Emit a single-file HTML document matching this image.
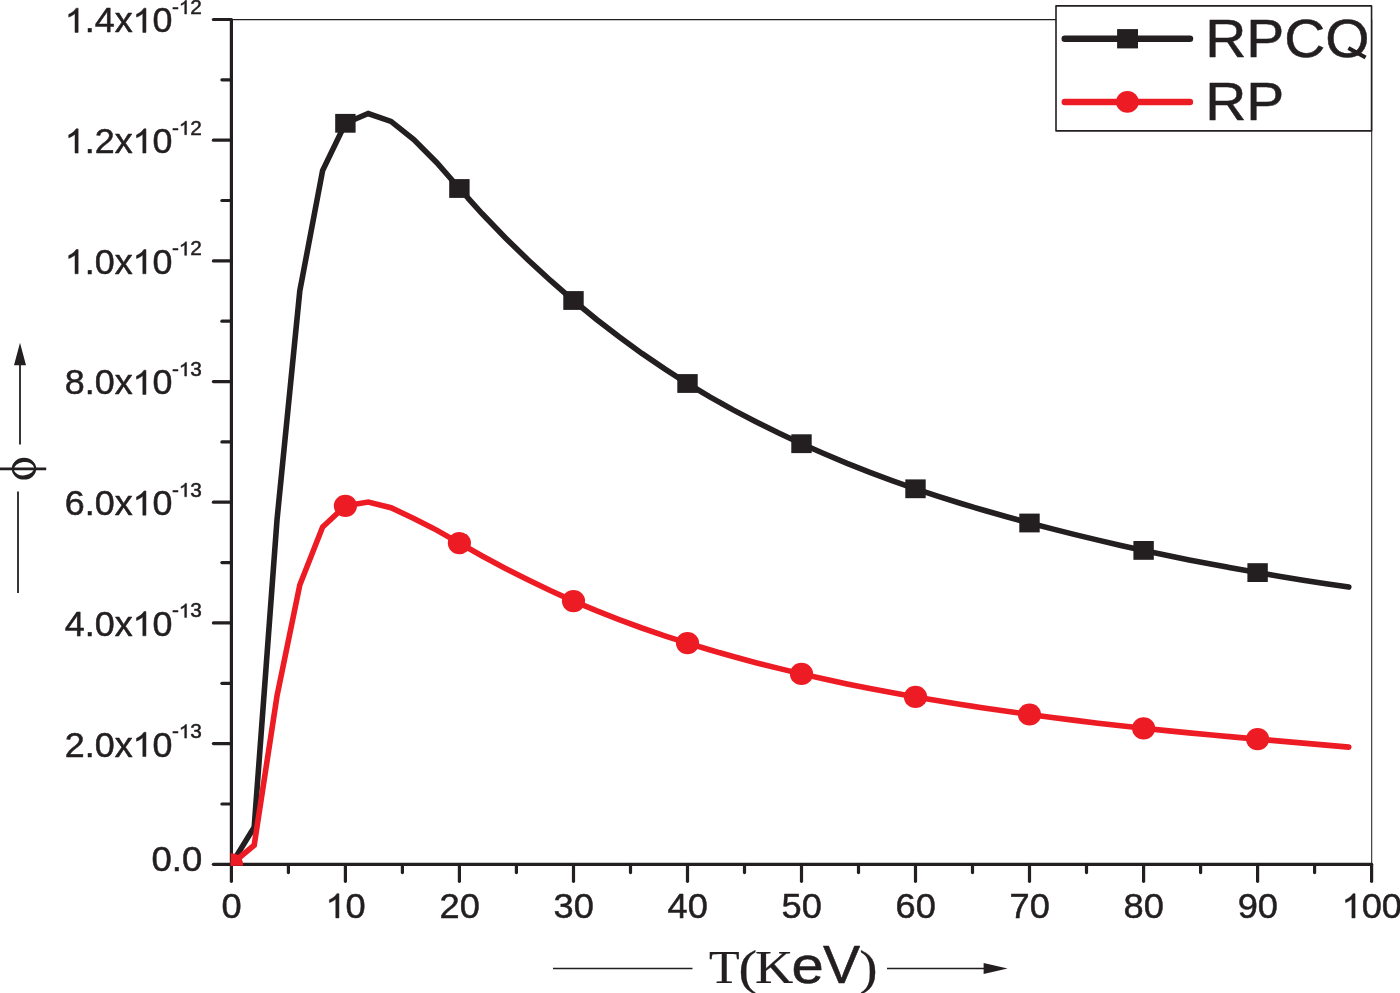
<!DOCTYPE html>
<html><head><meta charset="utf-8"><title>chart</title>
<style>html,body{margin:0;padding:0;background:#fff;overflow:hidden}svg{display:block}text{font-family:"Liberation Sans",sans-serif;fill:#231f20;font-kerning:none;stroke:#231f20;stroke-width:0.5px;stroke-linejoin:round}.s{font-family:"Liberation Serif",serif;stroke-width:0.25px}.one{stroke:#231f20;stroke-width:0.5px;vector-effect:non-scaling-stroke;stroke-linejoin:round}</style>
</head><body>
<svg width="1400" height="993" viewBox="0 0 1400 993">
<rect x="0" y="0" width="1400" height="993" fill="#fff"/>
<g opacity="0.999">
<defs><clipPath id="plot"><rect x="230.65" y="19.5" width="1140.9499999999998" height="846.25"/></clipPath></defs>
<line x1="231.4" y1="19.6" x2="1371.6" y2="19.6" stroke="#231f20" stroke-width="1.05"/>
<line x1="1371.6999999999998" y1="19.5" x2="1371.6999999999998" y2="864.3" stroke="#231f20" stroke-width="1.05"/>
<g stroke="#231f20" stroke-width="3.2" stroke-linecap="round" fill="none">
<line x1="231.4" y1="19.5" x2="231.4" y2="864.3"/>
<line x1="231.4" y1="864.3" x2="1371.6" y2="864.3"/>
<line x1="213.4" y1="864.3" x2="230.8" y2="864.3"/>
<line x1="221.9" y1="804.0" x2="230.8" y2="804.0"/>
<line x1="213.4" y1="743.6" x2="230.8" y2="743.6"/>
<line x1="221.9" y1="683.3" x2="230.8" y2="683.3"/>
<line x1="213.4" y1="622.9" x2="230.8" y2="622.9"/>
<line x1="221.9" y1="562.6" x2="230.8" y2="562.6"/>
<line x1="213.4" y1="502.2" x2="230.8" y2="502.2"/>
<line x1="221.9" y1="441.9" x2="230.8" y2="441.9"/>
<line x1="213.4" y1="381.6" x2="230.8" y2="381.6"/>
<line x1="221.9" y1="321.2" x2="230.8" y2="321.2"/>
<line x1="213.4" y1="260.9" x2="230.8" y2="260.9"/>
<line x1="221.9" y1="200.5" x2="230.8" y2="200.5"/>
<line x1="213.4" y1="140.2" x2="230.8" y2="140.2"/>
<line x1="221.9" y1="79.8" x2="230.8" y2="79.8"/>
<line x1="213.4" y1="19.5" x2="230.8" y2="19.5"/>
<line x1="231.4" y1="864.9" x2="231.4" y2="881.3"/>
<line x1="288.4" y1="864.9" x2="288.4" y2="872.6"/>
<line x1="345.4" y1="864.9" x2="345.4" y2="881.3"/>
<line x1="402.4" y1="864.9" x2="402.4" y2="872.6"/>
<line x1="459.4" y1="864.9" x2="459.4" y2="881.3"/>
<line x1="516.4" y1="864.9" x2="516.4" y2="872.6"/>
<line x1="573.5" y1="864.9" x2="573.5" y2="881.3"/>
<line x1="630.5" y1="864.9" x2="630.5" y2="872.6"/>
<line x1="687.5" y1="864.9" x2="687.5" y2="881.3"/>
<line x1="744.5" y1="864.9" x2="744.5" y2="872.6"/>
<line x1="801.5" y1="864.9" x2="801.5" y2="881.3"/>
<line x1="858.5" y1="864.9" x2="858.5" y2="872.6"/>
<line x1="915.5" y1="864.9" x2="915.5" y2="881.3"/>
<line x1="972.5" y1="864.9" x2="972.5" y2="872.6"/>
<line x1="1029.5" y1="864.9" x2="1029.5" y2="881.3"/>
<line x1="1086.5" y1="864.9" x2="1086.5" y2="872.6"/>
<line x1="1143.6" y1="864.9" x2="1143.6" y2="881.3"/>
<line x1="1200.6" y1="864.9" x2="1200.6" y2="872.6"/>
<line x1="1257.6" y1="864.9" x2="1257.6" y2="881.3"/>
<line x1="1314.6" y1="864.9" x2="1314.6" y2="872.6"/>
<line x1="1371.6" y1="864.9" x2="1371.6" y2="881.3"/>
</g>
<g clip-path="url(#plot)">
<polyline points="231.4,864.3 254.2,827.2 277.0,520.0 299.8,291.0 322.6,170.6 345.4,123.3 368.2,113.5 391.0,121.4 413.8,139.5 436.6,162.5 459.4,188.5 482.2,213.8 505.0,237.5 527.9,259.8 550.7,280.7 573.5,300.5 596.3,319.2 619.1,336.8 641.9,353.4 664.7,368.9 687.5,383.5 710.3,397.1 733.1,409.9 755.9,421.8 778.7,433.1 801.5,443.7 824.3,453.7 847.1,463.3 869.9,472.3 892.7,480.8 915.5,488.8 938.3,496.4 961.1,503.5 983.9,510.3 1006.7,516.8 1029.5,523.0 1052.3,528.9 1075.1,534.6 1098.0,540.1 1120.8,545.4 1143.6,550.4 1166.4,555.2 1189.2,559.9 1212.0,564.3 1234.8,568.5 1257.6,572.6 1280.4,576.5 1303.2,580.2 1326.0,583.7 1348.8,587.1" fill="none" stroke="#231f20" stroke-width="5.6" stroke-linejoin="miter" stroke-linecap="round"/>
<rect x="221.2" y="854.9" width="20.4" height="18.8" fill="#231f20"/>
<rect x="335.2" y="113.9" width="20.4" height="18.8" fill="#231f20"/>
<rect x="449.2" y="179.1" width="20.4" height="18.8" fill="#231f20"/>
<rect x="563.3" y="291.1" width="20.4" height="18.8" fill="#231f20"/>
<rect x="677.3" y="374.1" width="20.4" height="18.8" fill="#231f20"/>
<rect x="791.3" y="434.3" width="20.4" height="18.8" fill="#231f20"/>
<rect x="905.3" y="479.4" width="20.4" height="18.8" fill="#231f20"/>
<rect x="1019.3" y="513.6" width="20.4" height="18.8" fill="#231f20"/>
<rect x="1133.4" y="541.0" width="20.4" height="18.8" fill="#231f20"/>
<rect x="1247.4" y="563.2" width="20.4" height="18.8" fill="#231f20"/>
<polyline points="231.4,864.3 254.2,845.2 277.0,696.0 299.8,585.0 322.6,527.0 345.4,505.8 368.2,502.0 391.0,507.7 413.8,518.5 436.6,530.1 459.4,543.1 482.2,556.0 505.0,568.2 527.9,579.8 550.7,590.8 573.5,601.1 596.3,610.7 619.1,619.6 641.9,628.0 664.7,635.8 687.5,643.1 710.3,650.0 733.1,656.5 755.9,662.7 778.7,668.4 801.5,673.9 824.3,679.0 847.1,683.9 869.9,688.5 892.7,692.8 915.5,696.9 938.3,700.8 961.1,704.5 983.9,708.0 1006.7,711.3 1029.5,714.5 1052.3,717.5 1075.1,720.4 1098.0,723.2 1120.8,725.8 1143.6,728.3 1166.4,730.6 1189.2,732.9 1212.0,735.0 1234.8,737.1 1257.6,739.1 1280.4,741.1 1303.2,743.1 1326.0,745.1 1348.8,747.1" fill="none" stroke="#ed1c24" stroke-width="5.6" stroke-linejoin="miter" stroke-linecap="round"/>
<ellipse cx="231.4" cy="864.3" rx="11.6" ry="11.1" fill="#ed1c24"/>
<ellipse cx="345.4" cy="505.8" rx="11.6" ry="11.1" fill="#ed1c24"/>
<ellipse cx="459.4" cy="543.1" rx="11.6" ry="11.1" fill="#ed1c24"/>
<ellipse cx="573.5" cy="601.1" rx="11.6" ry="11.1" fill="#ed1c24"/>
<ellipse cx="687.5" cy="643.1" rx="11.6" ry="11.1" fill="#ed1c24"/>
<ellipse cx="801.5" cy="673.9" rx="11.6" ry="11.1" fill="#ed1c24"/>
<ellipse cx="915.5" cy="696.9" rx="11.6" ry="11.1" fill="#ed1c24"/>
<ellipse cx="1029.5" cy="714.5" rx="11.6" ry="11.1" fill="#ed1c24"/>
<ellipse cx="1143.6" cy="728.3" rx="11.6" ry="11.1" fill="#ed1c24"/>
<ellipse cx="1257.6" cy="739.1" rx="11.6" ry="11.1" fill="#ed1c24"/>
</g>
<path d="M763 0H583V1147Q518 1085 412.5 1023Q307 961 223 930V1104Q374 1175 487 1276Q600 1377 647 1472H763Z" transform="translate(64.80,32.40) scale(0.017516,-0.016472)" fill="#231f20" class="one"/>
<text transform="translate(84.75,32.40) scale(1.0220,1.0000)" font-size="35.1">.4x</text>
<path d="M763 0H583V1147Q518 1085 412.5 1023Q307 961 223 930V1104Q374 1175 487 1276Q600 1377 647 1472H763Z" transform="translate(132.60,32.40) scale(0.017516,-0.016472)" fill="#231f20" class="one"/>
<text transform="translate(152.55,32.40) scale(1.0220,1.0000)" font-size="35.1">0</text>
<text transform="translate(171.88,14.00) scale(1.0500,1.0000)" font-size="19.8">-</text>
<path d="M763 0H583V1147Q518 1085 412.5 1023Q307 961 223 930V1104Q374 1175 487 1276Q600 1377 647 1472H763Z" transform="translate(178.80,14.00) scale(0.010151,-0.009292)" fill="#231f20" class="one"/>
<text transform="translate(190.36,14.00) scale(1.0500,1.0000)" font-size="19.8">2</text>
<path d="M763 0H583V1147Q518 1085 412.5 1023Q307 961 223 930V1104Q374 1175 487 1276Q600 1377 647 1472H763Z" transform="translate(64.80,153.09) scale(0.017516,-0.016472)" fill="#231f20" class="one"/>
<text transform="translate(84.75,153.09) scale(1.0220,1.0000)" font-size="35.1">.2x</text>
<path d="M763 0H583V1147Q518 1085 412.5 1023Q307 961 223 930V1104Q374 1175 487 1276Q600 1377 647 1472H763Z" transform="translate(132.60,153.09) scale(0.017516,-0.016472)" fill="#231f20" class="one"/>
<text transform="translate(152.55,153.09) scale(1.0220,1.0000)" font-size="35.1">0</text>
<text transform="translate(171.88,134.69) scale(1.0500,1.0000)" font-size="19.8">-</text>
<path d="M763 0H583V1147Q518 1085 412.5 1023Q307 961 223 930V1104Q374 1175 487 1276Q600 1377 647 1472H763Z" transform="translate(178.80,134.69) scale(0.010151,-0.009292)" fill="#231f20" class="one"/>
<text transform="translate(190.36,134.69) scale(1.0500,1.0000)" font-size="19.8">2</text>
<path d="M763 0H583V1147Q518 1085 412.5 1023Q307 961 223 930V1104Q374 1175 487 1276Q600 1377 647 1472H763Z" transform="translate(64.80,273.77) scale(0.017516,-0.016472)" fill="#231f20" class="one"/>
<text transform="translate(84.75,273.77) scale(1.0220,1.0000)" font-size="35.1">.0x</text>
<path d="M763 0H583V1147Q518 1085 412.5 1023Q307 961 223 930V1104Q374 1175 487 1276Q600 1377 647 1472H763Z" transform="translate(132.60,273.77) scale(0.017516,-0.016472)" fill="#231f20" class="one"/>
<text transform="translate(152.55,273.77) scale(1.0220,1.0000)" font-size="35.1">0</text>
<text transform="translate(171.88,255.37) scale(1.0500,1.0000)" font-size="19.8">-</text>
<path d="M763 0H583V1147Q518 1085 412.5 1023Q307 961 223 930V1104Q374 1175 487 1276Q600 1377 647 1472H763Z" transform="translate(178.80,255.37) scale(0.010151,-0.009292)" fill="#231f20" class="one"/>
<text transform="translate(190.36,255.37) scale(1.0500,1.0000)" font-size="19.8">2</text>
<text transform="translate(64.80,394.46) scale(1.0220,1.0000)" font-size="35.1">8.0x</text>
<path d="M763 0H583V1147Q518 1085 412.5 1023Q307 961 223 930V1104Q374 1175 487 1276Q600 1377 647 1472H763Z" transform="translate(132.60,394.46) scale(0.017516,-0.016472)" fill="#231f20" class="one"/>
<text transform="translate(152.55,394.46) scale(1.0220,1.0000)" font-size="35.1">0</text>
<text transform="translate(171.88,376.06) scale(1.0500,1.0000)" font-size="19.8">-</text>
<path d="M763 0H583V1147Q518 1085 412.5 1023Q307 961 223 930V1104Q374 1175 487 1276Q600 1377 647 1472H763Z" transform="translate(178.80,376.06) scale(0.010151,-0.009292)" fill="#231f20" class="one"/>
<text transform="translate(190.36,376.06) scale(1.0500,1.0000)" font-size="19.8">3</text>
<text transform="translate(64.80,515.14) scale(1.0220,1.0000)" font-size="35.1">6.0x</text>
<path d="M763 0H583V1147Q518 1085 412.5 1023Q307 961 223 930V1104Q374 1175 487 1276Q600 1377 647 1472H763Z" transform="translate(132.60,515.14) scale(0.017516,-0.016472)" fill="#231f20" class="one"/>
<text transform="translate(152.55,515.14) scale(1.0220,1.0000)" font-size="35.1">0</text>
<text transform="translate(171.88,496.74) scale(1.0500,1.0000)" font-size="19.8">-</text>
<path d="M763 0H583V1147Q518 1085 412.5 1023Q307 961 223 930V1104Q374 1175 487 1276Q600 1377 647 1472H763Z" transform="translate(178.80,496.74) scale(0.010151,-0.009292)" fill="#231f20" class="one"/>
<text transform="translate(190.36,496.74) scale(1.0500,1.0000)" font-size="19.8">3</text>
<text transform="translate(64.80,635.83) scale(1.0220,1.0000)" font-size="35.1">4.0x</text>
<path d="M763 0H583V1147Q518 1085 412.5 1023Q307 961 223 930V1104Q374 1175 487 1276Q600 1377 647 1472H763Z" transform="translate(132.60,635.83) scale(0.017516,-0.016472)" fill="#231f20" class="one"/>
<text transform="translate(152.55,635.83) scale(1.0220,1.0000)" font-size="35.1">0</text>
<text transform="translate(171.88,617.43) scale(1.0500,1.0000)" font-size="19.8">-</text>
<path d="M763 0H583V1147Q518 1085 412.5 1023Q307 961 223 930V1104Q374 1175 487 1276Q600 1377 647 1472H763Z" transform="translate(178.80,617.43) scale(0.010151,-0.009292)" fill="#231f20" class="one"/>
<text transform="translate(190.36,617.43) scale(1.0500,1.0000)" font-size="19.8">3</text>
<text transform="translate(64.80,756.51) scale(1.0220,1.0000)" font-size="35.1">2.0x</text>
<path d="M763 0H583V1147Q518 1085 412.5 1023Q307 961 223 930V1104Q374 1175 487 1276Q600 1377 647 1472H763Z" transform="translate(132.60,756.51) scale(0.017516,-0.016472)" fill="#231f20" class="one"/>
<text transform="translate(152.55,756.51) scale(1.0220,1.0000)" font-size="35.1">0</text>
<text transform="translate(171.88,738.11) scale(1.0500,1.0000)" font-size="19.8">-</text>
<path d="M763 0H583V1147Q518 1085 412.5 1023Q307 961 223 930V1104Q374 1175 487 1276Q600 1377 647 1472H763Z" transform="translate(178.80,738.11) scale(0.010151,-0.009292)" fill="#231f20" class="one"/>
<text transform="translate(190.36,738.11) scale(1.0500,1.0000)" font-size="19.8">3</text>
<text transform="translate(151.48,871.00) scale(1.0400,1.0000)" font-size="35.1">0.0</text>
<text transform="translate(221.53,917.90) scale(1.0320,1.0000)" font-size="35.1">0</text>
<path d="M763 0H583V1147Q518 1085 412.5 1023Q307 961 223 930V1104Q374 1175 487 1276Q600 1377 647 1472H763Z" transform="translate(325.47,917.90) scale(0.017687,-0.016472)" fill="#231f20" class="one"/>
<text transform="translate(345.62,917.90) scale(1.0320,1.0000)" font-size="35.1">0</text>
<text transform="translate(439.49,917.90) scale(1.0320,1.0000)" font-size="35.1">20</text>
<text transform="translate(553.51,917.90) scale(1.0320,1.0000)" font-size="35.1">30</text>
<text transform="translate(667.53,917.90) scale(1.0320,1.0000)" font-size="35.1">40</text>
<text transform="translate(781.55,917.90) scale(1.0320,1.0000)" font-size="35.1">50</text>
<text transform="translate(895.57,917.90) scale(1.0320,1.0000)" font-size="35.1">60</text>
<text transform="translate(1009.59,917.90) scale(1.0320,1.0000)" font-size="35.1">70</text>
<text transform="translate(1123.61,917.90) scale(1.0320,1.0000)" font-size="35.1">80</text>
<text transform="translate(1237.63,917.90) scale(1.0320,1.0000)" font-size="35.1">90</text>
<path d="M763 0H583V1147Q518 1085 412.5 1023Q307 961 223 930V1104Q374 1175 487 1276Q600 1377 647 1472H763Z" transform="translate(1341.58,917.90) scale(0.017687,-0.016472)" fill="#231f20" class="one"/>
<text transform="translate(1361.73,917.90) scale(1.0320,1.0000)" font-size="35.1">00</text>
<g stroke="#231f20" stroke-width="1.7" fill="none"><line x1="553" y1="968.5" x2="692.5" y2="968.5"/><line x1="887" y1="968.5" x2="985" y2="968.5"/></g>
<polygon points="983.6,962.9 1007.6,968.5 983.6,974.1" fill="#231f20"/>
<text class="s" transform="translate(709.09,983.10) scale(1.0032,0.9408)" font-size="50">T</text>
<text class="s" transform="translate(738.55,984.26) scale(1.1136,0.9500)" font-size="50">(</text>
<text class="s" transform="translate(755.07,983.10) scale(1.0599,0.9408)" font-size="50">K</text>
<text transform="translate(791.44,983.10) scale(1.1593,1.0185)" font-size="50">e</text>
<text transform="translate(822.95,983.10) scale(1.1152,1.0640)" font-size="50">V</text>
<text class="s" transform="translate(859.13,984.26) scale(1.0980,0.9500)" font-size="50">)</text>
<g stroke="#231f20" stroke-width="1.8" fill="none"><line x1="20" y1="364" x2="20" y2="444.5"/><line x1="18" y1="491.5" x2="18" y2="593"/></g>
<polygon points="14,365.2 20,342.8 26,365.2" fill="#231f20"/>
<ellipse cx="24" cy="468.7" rx="12.2" ry="10.9" fill="#231f20"/>
<ellipse cx="24" cy="468.7" rx="10.1" ry="6.7" fill="#fff" transform="rotate(-7 24 468.7)"/>
<line x1="0" y1="468.8" x2="46.2" y2="468.8" stroke="#231f20" stroke-width="2.7"/>
<rect x="1056.0" y="5.9" width="315.55" height="125.0" fill="#fff" stroke="#231f20" stroke-width="1.6" stroke-linejoin="round"/>
<line x1="1064.8" y1="38.7" x2="1189.9" y2="38.7" stroke="#231f20" stroke-width="6.6" stroke-linecap="round"/>
<rect x="1117.1" y="29.1" width="20.9" height="19.3" fill="#231f20"/>
<line x1="1064.8" y1="102" x2="1189.9" y2="102" stroke="#ed1c24" stroke-width="6.5" stroke-linecap="round"/>
<ellipse cx="1127.4" cy="101.9" rx="11.4" ry="10.9" fill="#ed1c24"/>
<text transform="translate(1205.23,57.00) scale(1.0640,1.0000)" font-size="53.5">RPCO</text>
<line x1="1348.4" y1="48.0" x2="1365.6" y2="57.4" stroke="#231f20" stroke-width="4.0"/>
<text transform="translate(1205.23,120.00) scale(1.0640,1.0000)" font-size="53.5">RP</text>
</g>
</svg></body></html>
